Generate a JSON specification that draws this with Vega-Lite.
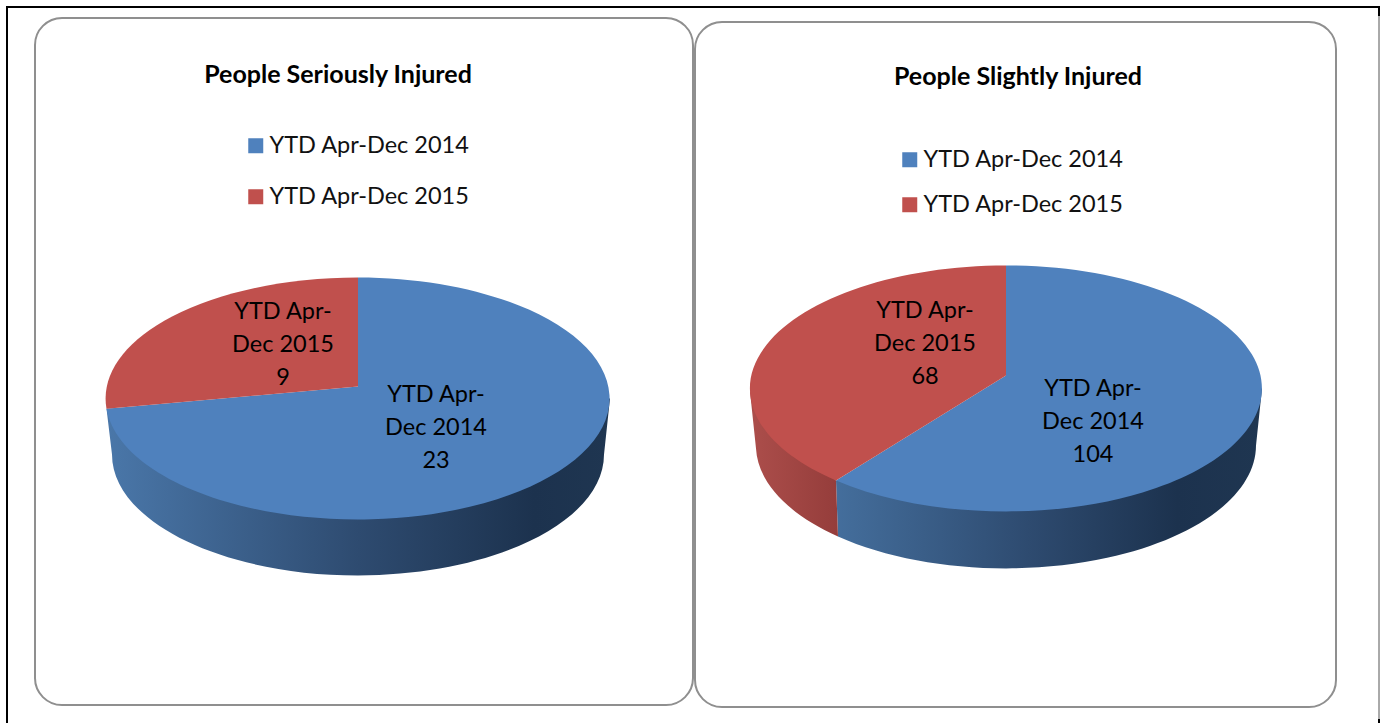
{"$schema":"https://vega.github.io/schema/vega-lite/v6.json","width":1386,"height":724,"autosize":{"type":"fit","contains":"padding"},"padding":0,"background":"white","config":{"view":{"stroke":null},"text":{"font":"Lato","color":"black"},"legend":{"labelFont":"Lato","labelFontSize":23.5,"labelColor":"#111111","labelLimit":400,"labelOffset":2,"symbolType":"square","symbolSize":225,"symbolStrokeWidth":0,"title":null}},"datasets":{"slices":[{"panel":"People Seriously Injured","series":"YTD Apr-Dec 2014","value":23,"label":"YTD Apr-\nDec 2014\n23"},{"panel":"People Seriously Injured","series":"YTD Apr-Dec 2015","value":9,"label":"YTD Apr-\nDec 2015\n9"},{"panel":"People Slightly Injured","series":"YTD Apr-Dec 2014","value":104,"label":"YTD Apr-\nDec 2014\n104"},{"panel":"People Slightly Injured","series":"YTD Apr-Dec 2015","value":68,"label":"YTD Apr-\nDec 2015\n68"}],"panels":[{"panel":"People Seriously Injured"},{"panel":"People Slightly Injured"}]},"data":{"name":"slices"},"layer":[
{"data":{"values":[{"border":"top"}]},"mark":{"type":"rule","color":"black","strokeWidth":2},"encoding":{"x":{"datum":6,"type":"quantitative","scale":{"domain":[0,1386],"nice":false},"axis":null},"x2":{"datum":1380},"y":{"datum":7,"type":"quantitative","scale":{"domain":[724,0],"nice":false},"axis":null}}},
{"data":{"values":[{"border":"left"}]},"mark":{"type":"rule","color":"black","strokeWidth":2},"encoding":{"x":{"datum":7,"type":"quantitative","scale":{"domain":[0,1386],"nice":false},"axis":null},"y":{"datum":6,"type":"quantitative","scale":{"domain":[724,0],"nice":false},"axis":null},"y2":{"datum":724}}},
{"data":{"values":[{"border":"right"}]},"mark":{"type":"rule","color":"#555555","strokeWidth":1},"encoding":{"x":{"datum":1379,"type":"quantitative","scale":{"domain":[0,1386],"nice":false},"axis":null},"y":{"datum":6,"type":"quantitative","scale":{"domain":[724,0],"nice":false},"axis":null},"y2":{"datum":724}}},
{"data":{"values":[{"border":"right-top"}]},"mark":{"type":"rule","color":"black","strokeWidth":2},"encoding":{"x":{"datum":1379,"type":"quantitative","scale":{"domain":[0,1386],"nice":false},"axis":null},"y":{"datum":6,"type":"quantitative","scale":{"domain":[724,0],"nice":false},"axis":null},"y2":{"datum":16}}},
{"data":{"values":[{"border":"right-bottom"}]},"mark":{"type":"rule","color":"black","strokeWidth":2},"encoding":{"x":{"datum":1379,"type":"quantitative","scale":{"domain":[0,1386],"nice":false},"axis":null},"y":{"datum":720,"type":"quantitative","scale":{"domain":[724,0],"nice":false},"axis":null},"y2":{"datum":724}}},
{"data":{"name":"panels"},"transform":[{"filter":"datum.panel === 'People Seriously Injured'"}],"layer":[
{"mark":{"type":"rect","filled":false,"stroke":"#8f8f8f","strokeWidth":2,"cornerRadius":27},"encoding":{"x":{"datum":35,"type":"quantitative","scale":{"domain":[0,1386],"nice":false},"axis":null},"x2":{"datum":693},"y":{"datum":18,"type":"quantitative","scale":{"domain":[724,0],"nice":false},"axis":null},"y2":{"datum":706}}},
{"mark":{"type":"text","fontWeight":"bold","fontSize":25,"align":"center","baseline":"middle"},"encoding":{"text":{"field":"panel"},"x":{"datum":338,"type":"quantitative","scale":{"domain":[0,1386],"nice":false},"axis":null},"y":{"datum":75,"type":"quantitative","scale":{"domain":[724,0],"nice":false},"axis":null}}}]},
{"data":{"name":"panels"},"transform":[{"filter":"datum.panel === 'People Slightly Injured'"}],"layer":[
{"mark":{"type":"rect","filled":false,"stroke":"#8f8f8f","strokeWidth":2,"cornerRadius":27},"encoding":{"x":{"datum":695,"type":"quantitative","scale":{"domain":[0,1386],"nice":false},"axis":null},"x2":{"datum":1336},"y":{"datum":22,"type":"quantitative","scale":{"domain":[724,0],"nice":false},"axis":null},"y2":{"datum":708}}},
{"mark":{"type":"text","fontWeight":"bold","fontSize":25,"align":"center","baseline":"middle"},"encoding":{"text":{"field":"panel"},"x":{"datum":1018,"type":"quantitative","scale":{"domain":[0,1386],"nice":false},"axis":null},"y":{"datum":77,"type":"quantitative","scale":{"domain":[724,0],"nice":false},"axis":null}}}]},
{"transform":[{"filter":"datum.panel === 'People Seriously Injured'"}],"layer":[
{"mark":{"type":"square","size":1,"opacity":1},"encoding":{"x":{"datum":358,"type":"quantitative","scale":{"domain":[0,1386],"nice":false},"axis":null},"y":{"datum":400,"type":"quantitative","scale":{"domain":[724,0],"nice":false},"axis":null},"color":{"field":"series","type":"nominal","scale":{"domain":["YTD Apr-Dec 2014","YTD Apr-Dec 2015"],"range":["#4f81bd","#c0504d"]},"legend":{"orient":"none","legendX":244,"legendY":134,"rowPadding":26,"title":null,"symbolType":"square","symbolSize":225}}}},
{"transform":[{"filter":"datum.series === 'YTD Apr-Dec 2014'"}],"mark":{"type":"point","filled":true,"opacity":1,"size":4,"shape":"M-251.5,10.3 L252,0 L246,56 A246 121 0 0 1 -246,56 Z","fill":{"gradient":"linear","x1":0,"y1":0,"x2":1,"y2":0,"stops":[{"offset":0,"color":"#4a77a9"},{"offset":0.5,"color":"#2e4b70"},{"offset":0.85,"color":"#1c324e"},{"offset":1,"color":"#1f3651"}]}},"encoding":{"x":{"datum":358,"type":"quantitative","scale":{"domain":[0,1386],"nice":false},"axis":null},"y":{"datum":399,"type":"quantitative","scale":{"domain":[724,0],"nice":false},"axis":null}}},
{"transform":[{"filter":"datum.series === 'YTD Apr-Dec 2014'"}],"mark":{"type":"point","filled":true,"opacity":1,"size":4,"fill":"#4f81bd","shape":"M0,-12 L0,-121 A252 121 0 1 1 -251.5,10.3 Z"},"encoding":{"x":{"datum":358,"type":"quantitative","scale":{"domain":[0,1386],"nice":false},"axis":null},"y":{"datum":399,"type":"quantitative","scale":{"domain":[724,0],"nice":false},"axis":null}}},
{"transform":[{"filter":"datum.series === 'YTD Apr-Dec 2015'"}],"mark":{"type":"point","filled":true,"opacity":1,"size":4,"fill":"#c0504d","shape":"M0,-12 L-251.5,10.3 A252 121 0 0 1 0,-121 Z"},"encoding":{"x":{"datum":358,"type":"quantitative","scale":{"domain":[0,1386],"nice":false},"axis":null},"y":{"datum":399,"type":"quantitative","scale":{"domain":[724,0],"nice":false},"axis":null}}},
{"transform":[{"filter":"datum.series === 'YTD Apr-Dec 2014'"}],"mark":{"type":"text","fontSize":23.5,"lineHeight":33,"lineBreak":"\n","align":"center","baseline":"middle"},"encoding":{"text":{"field":"label"},"x":{"datum":436,"type":"quantitative","scale":{"domain":[0,1386],"nice":false},"axis":null},"y":{"datum":396,"type":"quantitative","scale":{"domain":[724,0],"nice":false},"axis":null}}},
{"transform":[{"filter":"datum.series === 'YTD Apr-Dec 2015'"}],"mark":{"type":"text","fontSize":23.5,"lineHeight":33,"lineBreak":"\n","align":"center","baseline":"middle"},"encoding":{"text":{"field":"label"},"x":{"datum":283,"type":"quantitative","scale":{"domain":[0,1386],"nice":false},"axis":null},"y":{"datum":312,"type":"quantitative","scale":{"domain":[724,0],"nice":false},"axis":null}}}]},
{"transform":[{"filter":"datum.panel === 'People Slightly Injured'"}],"layer":[
{"mark":{"type":"square","size":1,"opacity":1},"encoding":{"x":{"datum":1006,"type":"quantitative","scale":{"domain":[0,1386],"nice":false},"axis":null},"y":{"datum":400,"type":"quantitative","scale":{"domain":[724,0],"nice":false},"axis":null},"color":{"field":"series","type":"nominal","scale":{"domain":["YTD Apr-Dec 2014","YTD Apr-Dec 2015"],"range":["#4f81bd","#c0504d"]},"legend":{"orient":"none","legendX":898,"legendY":148,"rowPadding":20,"title":null,"symbolType":"square","symbolSize":225}}}},
{"transform":[{"filter":"datum.series === 'YTD Apr-Dec 2014'"}],"mark":{"type":"point","filled":true,"opacity":1,"size":4,"shape":"M-170,92 L256,0 L250,57 A250 123 0 0 1 -168,148 Z","fill":{"gradient":"linear","x1":0,"y1":0,"x2":1,"y2":0,"stops":[{"offset":0,"color":"#446e9c"},{"offset":0.45,"color":"#2e4b70"},{"offset":0.8,"color":"#1c324e"},{"offset":1,"color":"#1f3651"}]}},"encoding":{"x":{"datum":1006,"type":"quantitative","scale":{"domain":[0,1386],"nice":false},"axis":null},"y":{"datum":389,"type":"quantitative","scale":{"domain":[724,0],"nice":false},"axis":null}}},
{"transform":[{"filter":"datum.series === 'YTD Apr-Dec 2015'"}],"mark":{"type":"point","filled":true,"opacity":1,"size":4,"shape":"M-256,3 L-170,92 L-168,148 A250 123 0 0 1 -250,60 Z","fill":{"gradient":"linear","x1":0,"y1":0,"x2":1,"y2":0,"stops":[{"offset":0,"color":"#ac4e4b"},{"offset":1,"color":"#953d3b"}]}},"encoding":{"x":{"datum":1006,"type":"quantitative","scale":{"domain":[0,1386],"nice":false},"axis":null},"y":{"datum":389,"type":"quantitative","scale":{"domain":[724,0],"nice":false},"axis":null}}},
{"transform":[{"filter":"datum.series === 'YTD Apr-Dec 2014'"}],"mark":{"type":"point","filled":true,"opacity":1,"size":4,"fill":"#4f81bd","shape":"M0,-13 L0,-123 A256 123 0 1 1 -170,92 Z"},"encoding":{"x":{"datum":1006,"type":"quantitative","scale":{"domain":[0,1386],"nice":false},"axis":null},"y":{"datum":389,"type":"quantitative","scale":{"domain":[724,0],"nice":false},"axis":null}}},
{"transform":[{"filter":"datum.series === 'YTD Apr-Dec 2015'"}],"mark":{"type":"point","filled":true,"opacity":1,"size":4,"fill":"#c0504d","shape":"M0,-13 L-170,92 A256 123 0 0 1 0,-123 Z"},"encoding":{"x":{"datum":1006,"type":"quantitative","scale":{"domain":[0,1386],"nice":false},"axis":null},"y":{"datum":389,"type":"quantitative","scale":{"domain":[724,0],"nice":false},"axis":null}}},
{"transform":[{"filter":"datum.series === 'YTD Apr-Dec 2014'"}],"mark":{"type":"text","fontSize":23.5,"lineHeight":33,"lineBreak":"\n","align":"center","baseline":"middle"},"encoding":{"text":{"field":"label"},"x":{"datum":1093,"type":"quantitative","scale":{"domain":[0,1386],"nice":false},"axis":null},"y":{"datum":390,"type":"quantitative","scale":{"domain":[724,0],"nice":false},"axis":null}}},
{"transform":[{"filter":"datum.series === 'YTD Apr-Dec 2015'"}],"mark":{"type":"text","fontSize":23.5,"lineHeight":33,"lineBreak":"\n","align":"center","baseline":"middle"},"encoding":{"text":{"field":"label"},"x":{"datum":925,"type":"quantitative","scale":{"domain":[0,1386],"nice":false},"axis":null},"y":{"datum":311,"type":"quantitative","scale":{"domain":[724,0],"nice":false},"axis":null}}}]}
],"resolve":{"scale":{"color":"independent"}}}
